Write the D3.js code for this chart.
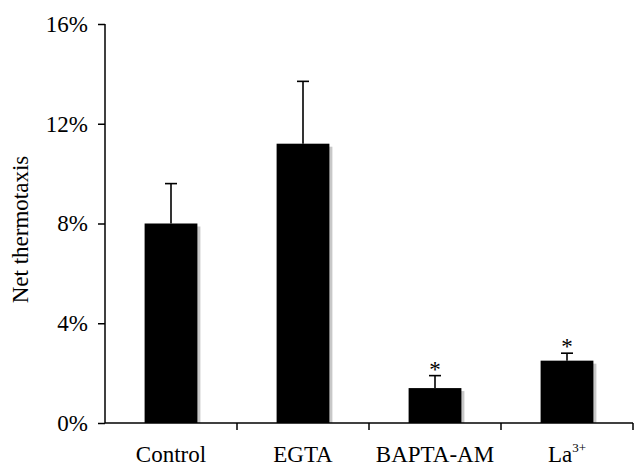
<!DOCTYPE html>
<html>
<head>
<meta charset="utf-8">
<script src="https://cdn.jsdelivr.net/npm/d3@7"></script>
<style>
  body { margin: 0; background: #fff; }
  text { font-family: "Liberation Serif", "Times New Roman", serif; fill: #000; }
</style>
</head>
<body>
<script>
var width = 634,
    height = 466,
    margin = {top: 24, right: 1, bottom: 43, left: 105};

var categories = ["Control", "EGTA", "BAPTA-AM", "La"],
    values = [8.0, 11.2, 1.4, 2.5],
    errors = [1.6, 2.5, 0.5, 0.3],
    significant = [false, false, true, true],
    yTicks = [0, 4, 8, 12, 16];

// table built from the arrays above
var rows = categories.map(function(c, i) {
    return {name: c, value: values[i], err: errors[i], sig: significant[i]};
});

var svg = d3.select("body").append("svg")
    .attr("width", width)
    .attr("height", height);

var x = d3.scaleBand()
    .domain(categories)
    .range([margin.left, width - margin.right])
    .paddingInner(0.6)
    .paddingOuter(0.3);

var y = d3.scaleLinear()
    .domain([0, 16])
    .range([height - margin.bottom, margin.top]);

function cx(d) { return x(d.name) + x.bandwidth() / 2; }

// shadows
svg.append("g").selectAll("rect")
    .data(rows)
    .enter().append("rect")
        .attr("x", function(d) { return x(d.name) + 3; })
        .attr("y", function(d) { return y(d.value) + 3; })
        .attr("width", x.bandwidth())
        .attr("height", function(d) { return y(0) - y(d.value) - 3; })
        .style("fill", "#c8c8c8");

// bars
svg.append("g").selectAll("rect")
    .data(rows)
    .enter().append("rect")
        .attr("x", function(d) { return x(d.name); })
        .attr("y", function(d) { return y(d.value); })
        .attr("width", x.bandwidth())
        .attr("height", function(d) { return y(0) - y(d.value); })
        .style("fill", "#000");

// error bars
var err = svg.append("g").selectAll("g")
    .data(rows)
    .enter().append("g");

err.append("line")
    .attr("x1", cx)
    .attr("x2", cx)
    .attr("y1", function(d) { return y(d.value); })
    .attr("y2", function(d) { return y(d.value + d.err); })
    .style("stroke", "#000")
    .style("stroke-width", 1.6);

err.append("line")
    .attr("x1", function(d) { return cx(d) - 6; })
    .attr("x2", function(d) { return cx(d) + 6; })
    .attr("y1", function(d) { return y(d.value + d.err); })
    .attr("y2", function(d) { return y(d.value + d.err); })
    .style("stroke", "#000")
    .style("stroke-width", 1.6);

err.filter(function(d) { return d.sig; })
    .append("text")
    .attr("x", cx)
    .attr("y", function(d) { return y(d.value + d.err) + 1; })
    .attr("text-anchor", "middle")
    .style("font-size", "23px")
    .text("*");

// y axis
var yAxis = svg.append("g")
    .attr("transform", "translate(" + margin.left + ",0)")
    .call(d3.axisLeft(y).tickValues(yTicks).tickSize(7).tickPadding(10)
        .tickFormat(function(d) { return d + "%"; }));
yAxis.selectAll("path, line").style("stroke", "#000").style("stroke-width", 1.5);
yAxis.select(".domain").attr("d", "M0," + y(16) + "V" + y(0));
yAxis.selectAll("text")
    .style("font-family", "Liberation Serif, serif")
    .style("font-size", "23px")
    .style("fill", "#000");

// x axis
var xAxis = svg.append("g")
    .attr("transform", "translate(0," + y(0) + ")");
xAxis.append("line")
    .attr("x1", margin.left)
    .attr("x2", width - margin.right)
    .style("stroke", "#000")
    .style("stroke-width", 1.5);
var step = x.step();
xAxis.selectAll(".tick")
    .data(rows)
    .enter().append("line")
        .attr("class", "tick")
        .attr("x1", function(d) { return cx(d) + step / 2; })
        .attr("x2", function(d) { return cx(d) + step / 2; })
        .attr("y1", 0)
        .attr("y2", 7)
        .style("stroke", "#000")
        .style("stroke-width", 1.5);

var labels = xAxis.selectAll(".lbl")
    .data(rows)
    .enter().append("text")
        .attr("class", "lbl")
        .attr("x", cx)
        .attr("y", 39)
        .attr("text-anchor", "middle")
        .style("font-size", "23px");
labels.append("tspan").text(function(d) { return d.name; });
labels.filter(function(d) { return d.name === "La"; })
    .append("tspan")
    .attr("dy", -10)
    .style("font-size", "13px")
    .text("3+");

// y label
svg.append("text")
    .attr("transform", "translate(28," + ((y(0) + y(16)) / 2 + 6) + ") rotate(-90)")
    .attr("text-anchor", "middle")
    .style("font-size", "23px")
    .text("Net thermotaxis");
</script>
</body>
</html>
